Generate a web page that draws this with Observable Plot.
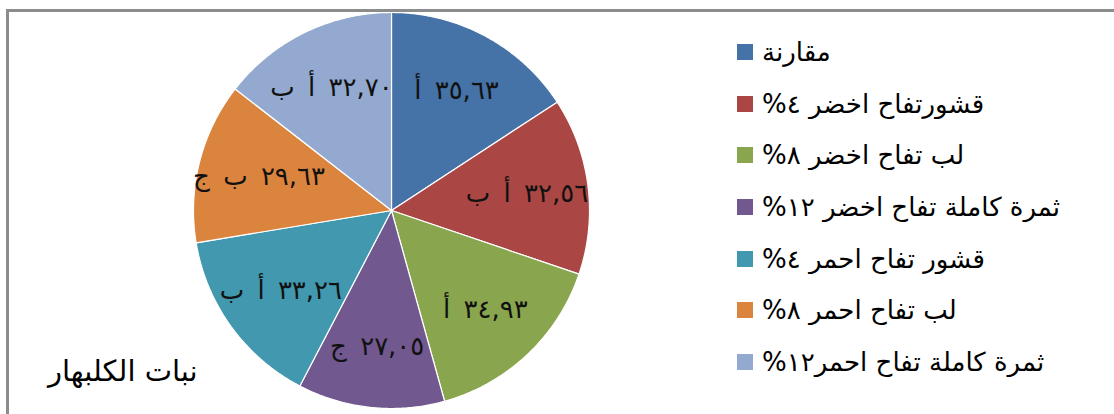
<!DOCTYPE html>
<html>
<head>
<meta charset="utf-8">
<script src="https://cdn.jsdelivr.net/npm/d3@7"></script>
<script src="https://cdn.jsdelivr.net/npm/@observablehq/plot@0.6"></script>
<style>
  body { margin: 0; background: #fff; }
  #wrap { position: relative; width: 1114px; height: 414px; overflow: hidden; background: #fff; }
  #frame { position: absolute; left: 6px; top: 9px; width: 1300px; height: 600px;
           border-left: 3px solid #8c8c8c; border-top: 3px solid #8c8c8c; box-sizing: border-box; }
  #chart { position: absolute; left: 0; top: 0; }
  #legend { position: absolute; left: 737px; top: 26px; }
  #legend .lg-swatches { margin: 0; }
  #legend .lg-swatch { height: 51.7px; display: flex; align-items: center; padding: 0 !important; }
  #legend .lg-swatch > svg { margin-right: 9px !important; }
  #caption { position: absolute; left: 48px; top: 354px; font: 29px "DejaVu Sans", sans-serif; direction: rtl; color: #000; }
</style>
</head>
<body>
<div id="wrap">
  <div id="frame"></div>
  <div id="chart"></div>
  <div id="legend"></div>
  <div id="caption">نبات الكلبهار</div>
</div>
<script>
// ---- data ----
const categories = [
  "مقارنة",
  "قشورتفاح اخضر ٤%",
  "لب تفاح اخضر ٨%",
  "ثمرة كاملة تفاح اخضر ١٢%",
  "قشور تفاح احمر ٤%",
  "لب تفاح احمر ٨%",
  "ثمرة كاملة تفاح احمر١٢%"
];
const values = [35.63, 32.56, 34.93, 27.05, 33.26, 29.63, 32.70];
const letters = ["أ", "أ ب", "أ", "ج", "أ ب", "ب ج", "أ ب"];
const colors = ["#4572A7", "#AA4643", "#89A54E", "#71588F", "#4198AF", "#DB843D", "#93A9CF"];

// ---- helpers ----
const arabicDigits = "٠١٢٣٤٥٦٧٨٩";
const toArabic = (v) => v.toFixed(2).replace(/[0-9]/g, (c) => arabicDigits[+c]).replace(".", ",");

const total = d3.sum(values);
let acc = 0;
const slices = categories.map((name, i) => {
  const a0 = (acc / total) * 2 * Math.PI;
  acc += values[i];
  const a1 = (acc / total) * 2 * Math.PI;
  return { name, value: values[i], a0, a1, mid: (a0 + a1) / 2, label: toArabic(values[i]) + " " + letters[i] };
});

// polygon outline for each slice (unit circle, y downward)
const outline = [];
for (const s of slices) {
  outline.push({ name: s.name, x: 0, y: 0 });
  const n = Math.max(2, Math.ceil((s.a1 - s.a0) / (Math.PI / 360)));
  for (let k = 0; k <= n; k++) {
    const a = s.a0 + (s.a1 - s.a0) * (k / n);
    outline.push({ name: s.name, x: Math.sin(a), y: -Math.cos(a) });
  }
  outline.push({ name: s.name, x: 0, y: 0 });
}

const cx = 391, cy = 210, R = 198, LR = 0.69;
const colorScale = { domain: categories, range: colors };

const plot = Plot.plot({
  width: 1114,
  height: 414,
  margin: 0,
  style: { background: "transparent" },
  x: { domain: [-1, 1], range: [cx - R, cx + R], axis: null },
  y: { domain: [-1, 1], range: [cy - R, cy + R], axis: null },
  color: colorScale,
  marks: [
    Plot.line(outline, { x: "x", y: "y", z: "name", fill: "name", stroke: "white", strokeWidth: 1.2, curve: "linear" }),
    Plot.text(slices, {
      x: (d) => LR * Math.sin(d.mid),
      y: (d) => -LR * Math.cos(d.mid),
      text: "label",
      fill: "#111",
      fontSize: 26,
      fontFamily: "DejaVu Sans, sans-serif"
    })
  ]
});
plot.querySelectorAll("text").forEach((t) => {
  t.setAttribute("direction", "rtl");
  t.setAttribute("word-spacing", "5");
  t.setAttribute("letter-spacing", "2");
});
document.getElementById("chart").appendChild(plot);

const legend = Plot.legend({
  color: colorScale,
  legend: "swatches",
  columns: 1,
  swatchSize: 16,
  className: "lg",
  tickFormat: (d) => "\u2067" + d + "\u2069",
  style: { fontSize: "26px", fontFamily: "DejaVu Sans, sans-serif", color: "#000" }
});
document.getElementById("legend").appendChild(legend);
</script>
</body>
</html>
